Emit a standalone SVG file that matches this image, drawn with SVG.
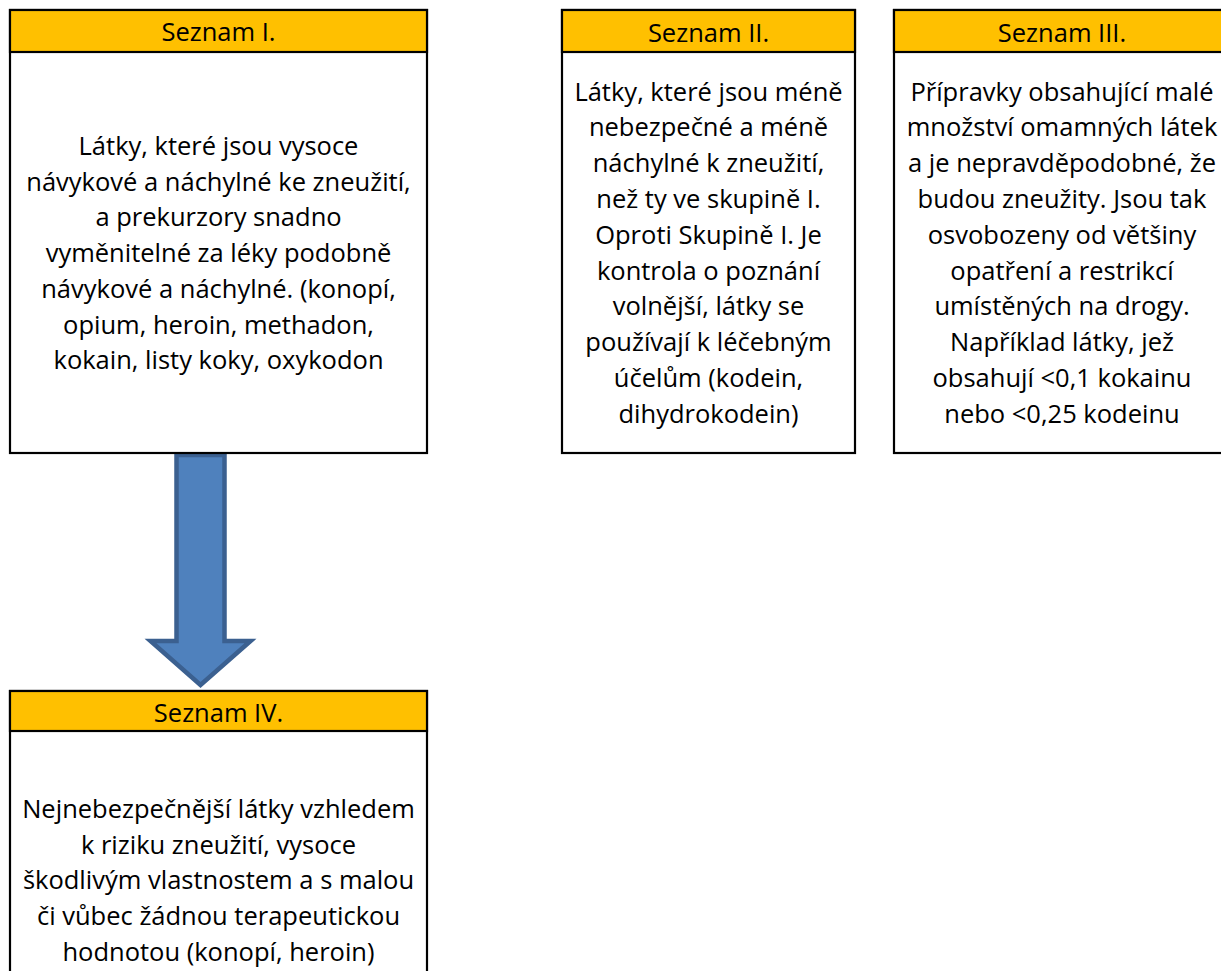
<svg xmlns="http://www.w3.org/2000/svg" width="1221" height="971" viewBox="0 0 1221 971">
<style>
.box{fill:#ffffff;stroke:#000000;stroke-width:2.2}
.hdr{fill:#FFC000;stroke:#000000;stroke-width:2.2}
.t{font-family:"Open Sans","Liberation Sans",sans-serif;font-size:25.5px;fill:#000000;text-anchor:middle}
.arrow{fill:#4F81BD;stroke:#3B6090;stroke-width:4.5;stroke-linejoin:miter}
</style>
<rect width="1221" height="971" fill="#ffffff"/>
<g id="connectors">
<path class="arrow" d="M176.5,455 L224.5,455 L224.5,641 L250.5,641 L200.5,685 L150.5,641 L176.5,641 Z"/>
</g>
<g id="seznam1">
<rect class="box" x="10" y="10" width="417" height="443"/>
<rect class="hdr" x="10" y="10" width="417" height="42"/>
<text class="t" x="218.5" y="41">Seznam I.</text>
<text class="t" x="218.5" y="155">Látky, které jsou vysoce</text>
<text class="t" x="218.5" y="190.7">návykové a náchylné ke zneužití,</text>
<text class="t" x="218.5" y="226.4">a prekurzory snadno</text>
<text class="t" x="218.5" y="262.1">vyměnitelné za léky podobně</text>
<text class="t" x="218.5" y="297.8">návykové a náchylné. (konopí,</text>
<text class="t" x="218.5" y="333.5">opium, heroin, methadon,</text>
<text class="t" x="218.5" y="369.2">kokain, listy koky, oxykodon</text>
</g>
<g id="seznam2">
<rect class="box" x="562" y="10" width="293" height="443"/>
<rect class="hdr" x="562" y="10" width="293" height="42"/>
<text class="t" x="708.5" y="42">Seznam II.</text>
<text class="t" x="708.5" y="100.5">Látky, které jsou méně</text>
<text class="t" x="708.5" y="136.3">nebezpečné a méně</text>
<text class="t" x="708.5" y="172.1">náchylné k zneužití,</text>
<text class="t" x="708.5" y="207.9">než ty ve skupině I.</text>
<text class="t" x="708.5" y="243.7">Oproti Skupině I. Je</text>
<text class="t" x="708.5" y="279.5">kontrola o poznání</text>
<text class="t" x="708.5" y="315.3">volnější, látky se</text>
<text class="t" x="708.5" y="351.1">používají k léčebným</text>
<text class="t" x="708.5" y="386.9">účelům (kodein,</text>
<text class="t" x="708.5" y="422.7">dihydrokodein)</text>
</g>
<g id="seznam3">
<rect class="box" x="894" y="10" width="340" height="443"/>
<rect class="hdr" x="894" y="10" width="340" height="42"/>
<text class="t" x="1062" y="42">Seznam III.</text>
<text class="t" x="1062" y="100.5">Přípravky obsahující malé</text>
<text class="t" x="1062" y="136.3">množství omamných látek</text>
<text class="t" x="1062" y="172.1">a je nepravděpodobné, že</text>
<text class="t" x="1062" y="207.9">budou zneužity. Jsou tak</text>
<text class="t" x="1062" y="243.7">osvobozeny od většiny</text>
<text class="t" x="1062" y="279.5">opatření a restrikcí</text>
<text class="t" x="1062" y="315.3">umístěných na drogy.</text>
<text class="t" x="1062" y="351.1">Například látky, jež</text>
<text class="t" x="1062" y="386.9">obsahují &lt;0,1 kokainu</text>
<text class="t" x="1062" y="422.7">nebo &lt;0,25 kodeinu</text>
</g>
<g id="seznam4">
<rect class="box" x="10" y="691" width="417" height="300"/>
<rect class="hdr" x="10" y="691" width="417" height="40"/>
<text class="t" x="218.5" y="721.5">Seznam IV.</text>
<text class="t" x="218.5" y="818">Nejnebezpečnější látky vzhledem</text>
<text class="t" x="218.5" y="853.7">k riziku zneužití, vysoce</text>
<text class="t" x="218.5" y="889.4">škodlivým vlastnostem a s malou</text>
<text class="t" x="218.5" y="925.1">či vůbec žádnou terapeutickou</text>
<text class="t" x="218.5" y="960.8">hodnotou (konopí, heroin)</text>
</g>
</svg>
